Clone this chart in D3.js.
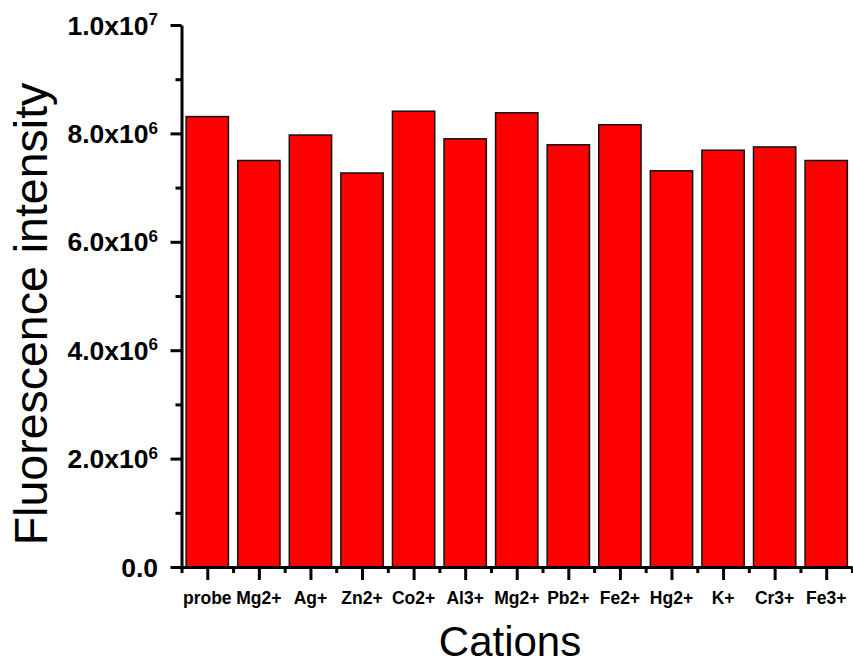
<!DOCTYPE html>
<html>
<head>
<meta charset="utf-8">
<script src="https://cdn.jsdelivr.net/npm/d3@7"></script>
<style>
  body { margin: 0; background: #fff; }
  svg { font-family: "Liberation Sans", Arial, sans-serif; }
</style>
</head>
<body>
<div id="chart"></div>
<script>
// cations on the x axis
const cations = ['probe', 'Mg2+', 'Ag+', 'Zn2+', 'Co2+', 'Al3+', 'Mg2+', 'Pb2+', 'Fe2+', 'Hg2+', 'K+', 'Cr3+', 'Fe3+'];
// fluorescence intensity of each bar
const intensity = [8.31e6, 7.50e6, 7.97e6, 7.27e6, 8.41e6, 7.90e6, 8.38e6, 7.79e6, 8.16e6, 7.31e6, 7.69e6, 7.75e6, 7.50e6];
// y tick labels (mantissa + exponent)
const yTickValues = [0, 2e6, 4e6, 6e6, 8e6, 1e7];
const yTickMantissa = ['0.0', '2.0x10', '4.0x10', '6.0x10', '8.0x10', '1.0x10'];
const yTickExponent = ['', '6', '6', '6', '6', '7'];
const yMinorTicks = [1e6, 3e6, 5e6, 7e6, 9e6];

const width = 853, height = 666;
const plot = { left: 181.5, right: 852, top: 25, bottom: 567 };

const svg = d3.select('#chart').append('svg')
    .attr('width', width)
    .attr('height', height);

// scales
const x = d3.scaleBand()
    .domain(d3.range(cations.length))
    .range([plot.left, plot.right])
    .paddingInner(0.18)
    .paddingOuter(0.09);

const y = d3.scaleLinear()
    .domain([0, 1e7])
    .range([plot.bottom, plot.top]);

// bars
svg.append('g')
    .selectAll('rect')
    .data(intensity)
    .enter()
    .append('rect')
    .attr('x', function (d, i) { return x(i); })
    .attr('y', function (d) { return y(d); })
    .attr('width', x.bandwidth())
    .attr('height', function (d) { return y(0) - y(d); })
    .style('fill', '#ff0000')
    .style('stroke', '#111')
    .style('stroke-width', 1.5);

// y axis, major ticks
svg.append('g')
    .attr('transform', `translate(${plot.left}, 0)`)
    .call(d3.axisLeft(y).tickValues(yTickValues).tickSize(11).tickSizeOuter(0).tickFormat(''));

// y axis, minor ticks
svg.append('g')
    .attr('transform', `translate(${plot.left}, 0)`)
    .call(d3.axisLeft(y).tickValues(yMinorTicks).tickSize(6).tickSizeOuter(0).tickFormat(''))
    .select('.domain').remove();

// y tick labels with superscript
const yLabels = svg.append('g')
    .selectAll('text')
    .data(yTickValues)
    .enter()
    .append('text')
    .attr('x', 158)
    .attr('y', function (d) { return y(d); })
    .attr('dy', '0.36em')
    .attr('text-anchor', 'end')
    .style('font-size', '26.5px')
    .style('font-weight', 'bold');

yLabels.append('tspan')
    .text(function (d, i) { return yTickMantissa[i]; });

yLabels.append('tspan')
    .attr('dy', '-0.55em')
    .style('font-size', '17px')
    .text(function (d, i) { return yTickExponent[i]; });

// x axis, ticks at bar centres and minor ticks at bar edges
const centres = d3.range(cations.length).map(function (i) { return x(i) + x.bandwidth() / 2; });
const edges = d3.range(cations.length + 1).map(function (i) { return plot.left + i * x.step(); });
const xLinear = d3.scaleLinear().domain([plot.left, plot.right]).range([plot.left, plot.right]);

svg.append('g')
    .attr('transform', `translate(0, ${plot.bottom})`)
    .call(d3.axisBottom(xLinear).tickValues(centres).tickSize(13).tickSizeOuter(0).tickFormat(''));

svg.append('g')
    .attr('transform', `translate(0, ${plot.bottom})`)
    .call(d3.axisBottom(xLinear).tickValues(edges).tickSize(6).tickSizeOuter(0).tickFormat(''))
    .select('.domain').remove();

// x tick labels
svg.append('g')
    .selectAll('text')
    .data(cations)
    .enter()
    .append('text')
    .attr('x', function (d, i) { return centres[i]; })
    .attr('y', 604)
    .attr('text-anchor', 'middle')
    .style('font-size', '17.5px')
    .style('font-weight', 'bold')
    .text(function (d) { return d; });

// axis styling
svg.selectAll('.domain, .tick line')
    .style('stroke', '#000')
    .style('stroke-width', 3);

// axis titles
svg.append('text')
    .attr('x', 510)
    .attr('y', 656)
    .attr('text-anchor', 'middle')
    .style('font-size', '42px')
    .text('Cations');

svg.append('text')
    .attr('transform', 'translate(47, 314) rotate(-90)')
    .attr('text-anchor', 'middle')
    .style('font-size', '46.5px')
    .text('Fluorescence intensity');
</script>
</body>
</html>
